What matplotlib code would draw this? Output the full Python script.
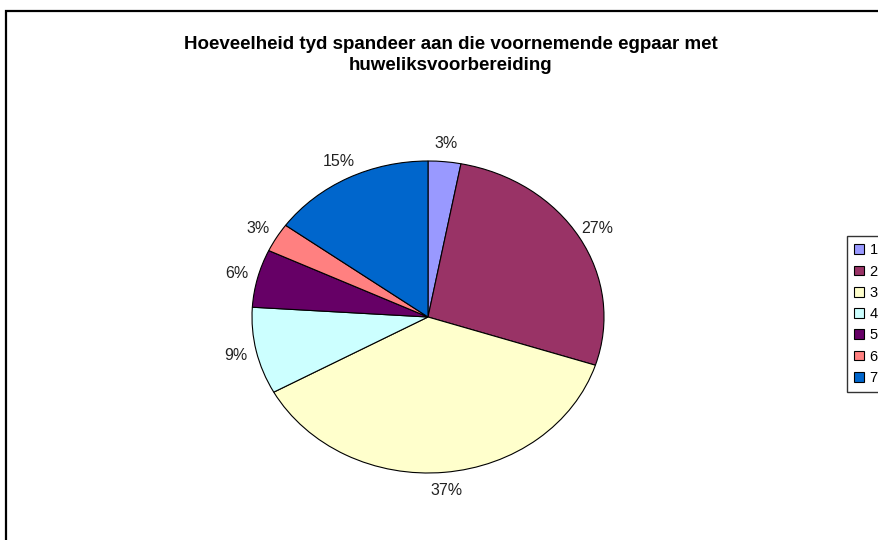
import matplotlib.pyplot as plt
from matplotlib.patches import Rectangle, Patch

plt.rcParams['font.family'] = ['Liberation Sans', 'DejaVu Sans']

categories = ['1', '2', '3', '4', '5', '6', '7']
percentages = [3, 27, 37, 9, 6, 3, 15]
colors = ['#9999FF', '#993366', '#FFFFCC', '#CCFFFF', '#660066', '#FF8080', '#0066CC']
title = 'Hoeveelheid tyd spandeer aan die voornemende egpaar met\nhuweliksvoorbereiding'

W, H = 879, 540
fig = plt.figure(figsize=(W / 100, H / 100), dpi=100)

# outer chart frame (runs off the right and bottom edges)
fig.patches.append(Rectangle((6 / W, -0.05), 1.2, 1 - 11 / H + 0.05,
                             transform=fig.transFigure, fill=False,
                             edgecolor='black', linewidth=1.6))

fig.text(451 / W, 1 - 55 / H, title, ha='center', va='center',
         fontsize=13.5, fontweight='bold', linespacing=1.25)

# pie area (slightly elliptical like the original)
cx, cy, rx, ry = 428, 317, 176, 156
ax = fig.add_axes([(cx - rx) / W, 1 - (cy + ry) / H, 2 * rx / W, 2 * ry / H])
wedges, texts, autotexts = ax.pie(
    percentages, colors=colors, startangle=90, counterclock=False,
    autopct='%d%%', pctdistance=1.12,
    wedgeprops=dict(edgecolor='black', linewidth=0.8),
    textprops=dict(fontsize=11.5, color='#222222'))
ax.set_aspect('auto')
ax.set_xlim(-1, 1)
ax.set_ylim(-1, 1)
for t in autotexts:
    t.set_clip_on(False)

handles = [Patch(facecolor=c, edgecolor='black', linewidth=0.8) for c in colors]
leg = fig.legend(handles, categories, loc='upper left',
                 bbox_to_anchor=(847 / W, 1 - 236 / H),
                 fontsize=10.5, frameon=True, fancybox=False,
                 handlelength=0.65, handleheight=0.65, handletextpad=0.4,
                 labelspacing=0.5, borderpad=0.5, borderaxespad=0)
leg.get_frame().set_edgecolor('black')
leg.get_frame().set_linewidth(1.0)

fig.savefig('out.png', dpi=100)
